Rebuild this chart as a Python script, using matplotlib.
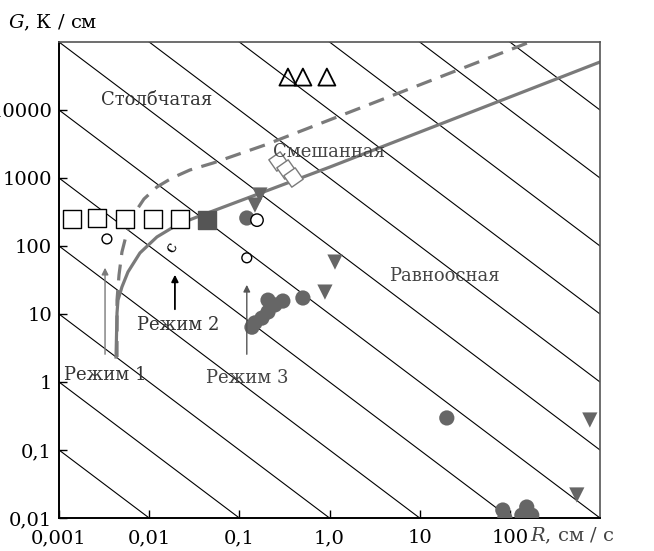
#!/usr/bin/env python3
"""
G-R solidification map (columnar / mixed / equiaxed zones).
"""

import numpy as np
import matplotlib
matplotlib.use('Agg')
import matplotlib.pyplot as plt

plt.rcParams['font.family'] = ['DejaVu Serif']
plt.rcParams['mathtext.fontset'] = 'dejavuserif'

# iso-lines G*R = const
iso_products = [1e-4, 1e-3, 1e-2, 1e-1, 1e0, 1e1, 1e2, 1e3, 1e4, 1e5, 1e6, 1e7]

# boundary columnar -> mixed (dashed) and mixed -> equiaxed (solid)
dashed_R = [0.0044, 0.0044, 0.00463, 0.00499, 0.00568, 0.00679, 0.00875, 0.0122,
            0.0179, 0.0283, 0.051, 0.192, 1.68, 167]
dashed_G = [2.33, 16, 37.5, 81.6, 161, 296, 491, 738, 1000, 1312, 1660, 3055, 9330, 1e5]
solid_R = [0.00429, 0.0044, 0.00451, 0.00499, 0.00582, 0.0079, 0.0122, 0.0203, 0.0339, 1.01, 1000]
solid_G = [2.33, 10.4, 16, 25, 41.5, 79, 136, 204, 267, 1450, 50800]

# experimental points
open_sq_R = [0.00139, 0.00264, 0.0054, 0.011, 0.0219]
open_sq_G = [250, 262, 250, 250, 250]
filled_sq_R = [0.0438]
filled_sq_G = [240]
open_tri_R = [0.346, 0.507, 0.935]
open_tri_G = [30500, 30500, 30500]
diamond_R = [0.268, 0.329, 0.393]
diamond_G = [1780, 1350, 1035]
open_circ_R = [0.0034, 0.121, 0.157]
open_circ_G = [127, 67, 240]
open_circ_size = [50, 50, 80]
filled_circ_R = [0.121, 0.138, 0.149, 0.178, 0.208, 0.248, 0.208, 0.304, 0.507,
                 20, 83.6, 88, 154, 136, 175]
filled_circ_G = [258, 6.4, 7.4, 8.7, 10.7, 13.6, 16, 15.5, 17.2,
                 0.296, 0.0131, 0.01, 0.0145, 0.011, 0.011]
down_tri_R = [0.169, 0.149, 1.15, 0.89, 771, 553]
down_tri_G = [562, 400, 58, 21, 0.276, 0.0218]

x_ticks = [1e-3, 1e-2, 1e-1, 1e0, 1e1, 1e2]
x_tick_labels = ['0,001', '0,01', '0,1', '1,0', '10', '100']
y_ticks = [1e-2, 1e-1, 1e0, 1e1, 1e2, 1e3, 1e4]
y_tick_labels = ['0,01', '0,1', '1', '10', '100', '1000', '10000']

GRAY = '#7a7a7a'
MARK = '#666666'


def main():
    fig = plt.figure(figsize=(6.54, 5.51), dpi=100)
    ax = fig.add_axes([59 / 654, 33 / 551, 541 / 654, 476 / 551])
    ax.set_xscale('log')
    ax.set_yscale('log')

    r = np.logspace(-3, 3, 200)
    for c in iso_products:
        ax.plot(r, c / r, color='black', lw=0.8, zorder=1)

    ax.plot(dashed_R, dashed_G, color=GRAY, lw=2.3, ls=(0, (5, 3)), zorder=2)
    ax.plot(solid_R, solid_G, color=GRAY, lw=2.3, zorder=2)

    ax.scatter(open_sq_R, open_sq_G, marker='s', s=170, facecolors='white',
               edgecolors='black', linewidths=1.0, zorder=3)
    ax.scatter(filled_sq_R, filled_sq_G, marker='s', s=170, color='#555555', zorder=3)
    ax.scatter(open_tri_R, open_tri_G, marker='^', s=150, facecolors='none',
               edgecolors='black', linewidths=1.3, zorder=3)
    ax.scatter(diamond_R, diamond_G, marker=(4, 0, 80), s=200, facecolors='white',
               edgecolors=GRAY, linewidths=1.0, zorder=3)
    ax.scatter(filled_circ_R, filled_circ_G, marker='o', s=120, color=MARK,
               edgecolors='none', zorder=3)
    ax.scatter(open_circ_R, open_circ_G, marker='o', s=open_circ_size, facecolors='white',
               edgecolors='black', linewidths=1.0, zorder=4)
    ax.scatter(down_tri_R, down_tri_G, marker='v', s=120, color=MARK,
               edgecolors='none', zorder=3)

    ax.text(0.0179, 93, 'c', fontsize=12, rotation=60, ha='center', va='center')

    # growth regimes
    ax.annotate('', xy=(0.00324, 52.6), xytext=(0.00324, 2.33),
                arrowprops=dict(arrowstyle='-|>', color=GRAY, lw=1.0))
    ax.annotate('', xy=(0.0193, 41.5), xytext=(0.0193, 10.7),
                arrowprops=dict(arrowstyle='-|>', color='black', lw=1.3))
    ax.annotate('', xy=(0.121, 29.5), xytext=(0.121, 2.33),
                arrowprops=dict(arrowstyle='-|>', color='#555555', lw=1.0))

    ax.text(0.00324, 1.27, 'Режим 1', fontsize=13, color='#333333', ha='center', va='center')
    ax.text(0.0208, 6.9, 'Режим 2', fontsize=13, color='#333333', ha='center', va='center')
    ax.text(0.121, 1.15, 'Режим 3', fontsize=13, color='#444444', ha='center', va='center')

    ax.text(0.0122, 14000, 'Столбчатая', fontsize=13, color='#333333', ha='center', va='center')
    ax.text(1.0, 2410, 'Смешанная', fontsize=13, color='#444444', ha='center', va='center')
    ax.text(19, 36, 'Равноосная', fontsize=13, color='#444444', ha='center', va='center')

    ax.set_xlim(1e-3, 1e3)
    ax.set_ylim(1e-2, 1e5)
    ax.set_xticks(x_ticks)
    ax.set_xticklabels(x_tick_labels)
    ax.set_yticks(y_ticks)
    ax.set_yticklabels(y_tick_labels)
    ax.minorticks_off()
    ax.tick_params(direction='in', length=6, width=1, labelsize=14, pad=5)
    ax.tick_params(axis='x', pad=8)

    for side in ['left', 'bottom']:
        ax.spines[side].set_linewidth(1.4)
    for side in ['top', 'right']:
        ax.spines[side].set_linewidth(1.2)
        ax.spines[side].set_color('#555555')

    fig.text(572 / 654, 1 - 536 / 551, r'$R$, см / с', fontsize=14,
             color='#444444', ha='center', va='center')
    fig.text(8 / 654, 1 - 28 / 551, r'$G$, К / см', fontsize=14, ha='left', va='baseline')

    plt.savefig('out.png', dpi=100)
    plt.close()
    return 0


if __name__ == "__main__":
    exit(main())
